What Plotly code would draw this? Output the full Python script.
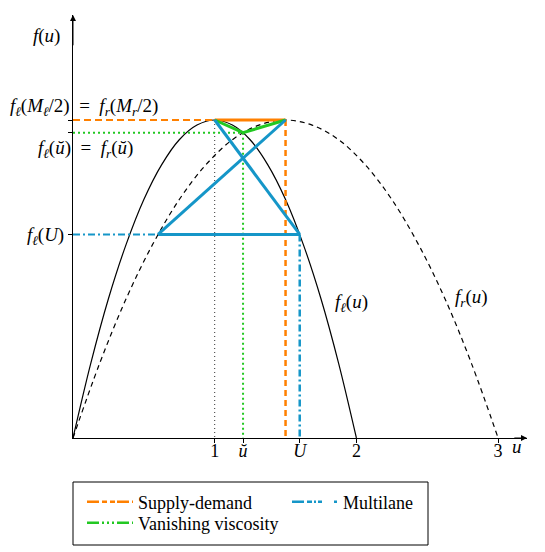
import plotly.graph_objects as go

# flux curves (u, f(u)), max height normalised to 1
u_left = [0, 0.125, 0.25, 0.375, 0.5, 0.625, 0.75, 0.875, 1.0,
          1.125, 1.25, 1.375, 1.5, 1.625, 1.75, 1.875, 2.0]
f_left = [0, 0.234, 0.438, 0.609, 0.75, 0.859, 0.938, 0.984, 1.0,
          0.984, 0.938, 0.859, 0.75, 0.609, 0.438, 0.234, 0]
u_right = [0, 0.1875, 0.375, 0.5625, 0.75, 0.9375, 1.125, 1.3125, 1.5,
           1.6875, 1.875, 2.0625, 2.25, 2.4375, 2.625, 2.8125, 3.0]
f_right = [0, 0.234, 0.438, 0.609, 0.75, 0.859, 0.938, 0.984, 1.0,
           0.984, 0.938, 0.859, 0.75, 0.609, 0.438, 0.234, 0]

# key states
u_one, u_tilde, u_big, u_low, u_peak_r = 1.0, 1.2, 1.6, 0.6, 1.5
f_max, f_tilde, f_big = 1.0, 0.96, 0.64

x_ticks = [1, u_tilde, u_big, 2, 3]
x_ticktext = ["1", "<i>ŭ</i>", "<i>U</i>", "2", "3"]

ORANGE = "#ff8000"
GREEN = "#22c822"
BLUE = "#1596c8"
FONT = "Liberation Serif"

fig = go.Figure()


def seg(x, y, color, width, dash="solid", shape="linear"):
    fig.add_trace(go.Scatter(x=x, y=y, mode="lines", showlegend=False, hoverinfo="skip",
                             line=dict(color=color, width=width, dash=dash, shape=shape)))


# curves
seg(u_left, f_left, "black", 1.2, shape="spline")
seg(u_right, f_right, "black", 1.2, dash="5px,4px", shape="spline")

# guides
seg([u_one, u_one], [f_max, 0], "#333", 1, dash="1px,3px")
seg([0, u_one], [f_max, f_max], ORANGE, 2, dash="7px,4px")
seg([u_peak_r, u_peak_r], [f_max, 0], ORANGE, 2.5, dash="6px,4px")
seg([0, u_tilde], [f_tilde, f_tilde], GREEN, 2, dash="2px,3px")
seg([u_tilde, u_tilde], [f_tilde, 0], GREEN, 2, dash="2px,3px")
seg([0, u_low], [f_big, f_big], BLUE, 2, dash="7px,3px,2px,3px")
seg([u_big, u_big], [f_big, 0], BLUE, 2.5, dash="7px,3px,2px,3px")

# solution paths
seg([u_one, u_peak_r], [f_max, f_max], ORANGE, 3)
seg([u_one, u_tilde, u_peak_r], [f_max, f_tilde, f_max], GREEN, 3)
seg([u_low, u_peak_r], [f_big, f_max], BLUE, 3)
seg([u_one, u_big], [f_max, f_big], BLUE, 3)
seg([u_low, u_big], [f_big, f_big], BLUE, 3)

# legend entries, one legend box each so rows sit where the reference has them
legend_items = [
    ("Supply-demand", ORANGE, "12px,3px,5px,3px,5px,2px", "legend"),
    ("Vanishing viscosity", GREEN, "12px,3px,2px,3px,2px,3px,2px,3px", "legend2"),
    ("Multilane", BLUE, "12px,3px,5px,2px,2px,2px,4px", "legend3"),
]
for name, color, dash, lg in legend_items:
    fig.add_trace(go.Scatter(x=[None], y=[None], mode="lines", name=name, legend=lg,
                             line=dict(color=color, width=2.5, dash=dash)))

# page body has an 8px margin, so screen = figure + 8
OFF = 8
W, H = 545, 552
L, R, T, B = 73 - OFF, 26, 15 - OFF, 552 - (438 - OFF)
pw, ph = W - L - R, H - T - B
xmax = pw / 141.7
ymax = ph / 318.0


def sx(x):
    return (x - OFF - L) / pw


def sy(y):
    return (H - B - (y - OFF)) / ph


ann = []
# axis arrows
ann.append(dict(x=xmax, y=0, ax=xmax - 0.1, ay=0, xref="x", yref="y", axref="x", ayref="y",
                showarrow=True, arrowhead=2, arrowsize=1.2, arrowwidth=1, arrowcolor="black", text=""))
ann.append(dict(x=0, y=ymax, ax=0, ay=ymax - 0.1, xref="x", yref="y", axref="x", ayref="y",
                showarrow=True, arrowhead=2, arrowsize=1.2, arrowwidth=1, arrowcolor="black", text=""))

txt = dict(showarrow=False, xref="paper", yref="paper", yanchor="middle",
           font=dict(family=FONT, size=19, color="black"))
EQ = "\u2002=\u2002"
ann.append(dict(x=sx(517), y=sy(447), xanchor="center", text="<i>u</i>", **txt))
ann.append(dict(x=sx(46), y=sy(36), xanchor="center", text="<i>f</i>(<i>u</i>)", **txt))
ann.append(dict(x=sx(8), y=sy(107), xanchor="left",
                text="<i>f</i><sub><i>ℓ</i></sub>(<i>M</i><sub><i>ℓ</i></sub>/2)" + EQ +
                     "<i>f</i><sub><i>r</i></sub>(<i>M</i><sub><i>r</i></sub>/2)", **txt))
ann.append(dict(x=sx(36), y=sy(149), xanchor="left",
                text="<i>f</i><sub><i>ℓ</i></sub>(<i>ŭ</i>)" + EQ + "<i>f</i><sub><i>r</i></sub>(<i>ŭ</i>)",
                **txt))
ann.append(dict(x=sx(333), y=sy(303), xanchor="left",
                text="<i>f</i><sub><i>ℓ</i></sub>(<i>u</i>)", **txt))
ann.append(dict(x=sx(453), y=sy(298), xanchor="left",
                text="<i>f</i><sub><i>r</i></sub>(<i>u</i>)", **txt))

leg = dict(xanchor="left", yanchor="middle", bgcolor="rgba(0,0,0,0)", itemwidth=46,
           font=dict(size=18))

fig.update_layout(
    width=W, height=H, margin=dict(l=L, r=R, t=T, b=B, autoexpand=False),
    plot_bgcolor="white", paper_bgcolor="white",
    font=dict(family=FONT, size=18, color="black"),
    xaxis=dict(range=[0, xmax], showgrid=False, zeroline=False, showline=True, automargin=False,
               linecolor="black", linewidth=1, ticks="outside", ticklen=4, tickcolor="black",
               tickvals=x_ticks, ticktext=x_ticktext, tickfont=dict(size=18),
               ticklabelstandoff=-8),
    yaxis=dict(range=[0, ymax], showgrid=False, zeroline=False, showline=True, automargin=False,
               linecolor="black", linewidth=1, ticks="outside", ticklen=4, tickcolor="black",
               tickvals=[f_big], ticktext=["<i>f</i><sub><i>ℓ</i></sub>(<i>U</i>)"],
               tickfont=dict(size=19),
               minor=dict(tickvals=[f_tilde, f_max], ticks="outside", ticklen=4,
                          tickcolor="black", showgrid=False)),
    annotations=ann,
    shapes=[dict(type="rect", xref="paper", yref="paper", x0=sx(73), x1=sx(428),
                 y0=sy(545), y1=sy(482), line=dict(color="black", width=1))],
    legend=dict(x=sx(82), y=sy(502), **leg),
    legend2=dict(x=sx(82), y=sy(523), **leg),
    legend3=dict(x=sx(287), y=sy(502), **leg),
)

fig.write_html("out.html")
